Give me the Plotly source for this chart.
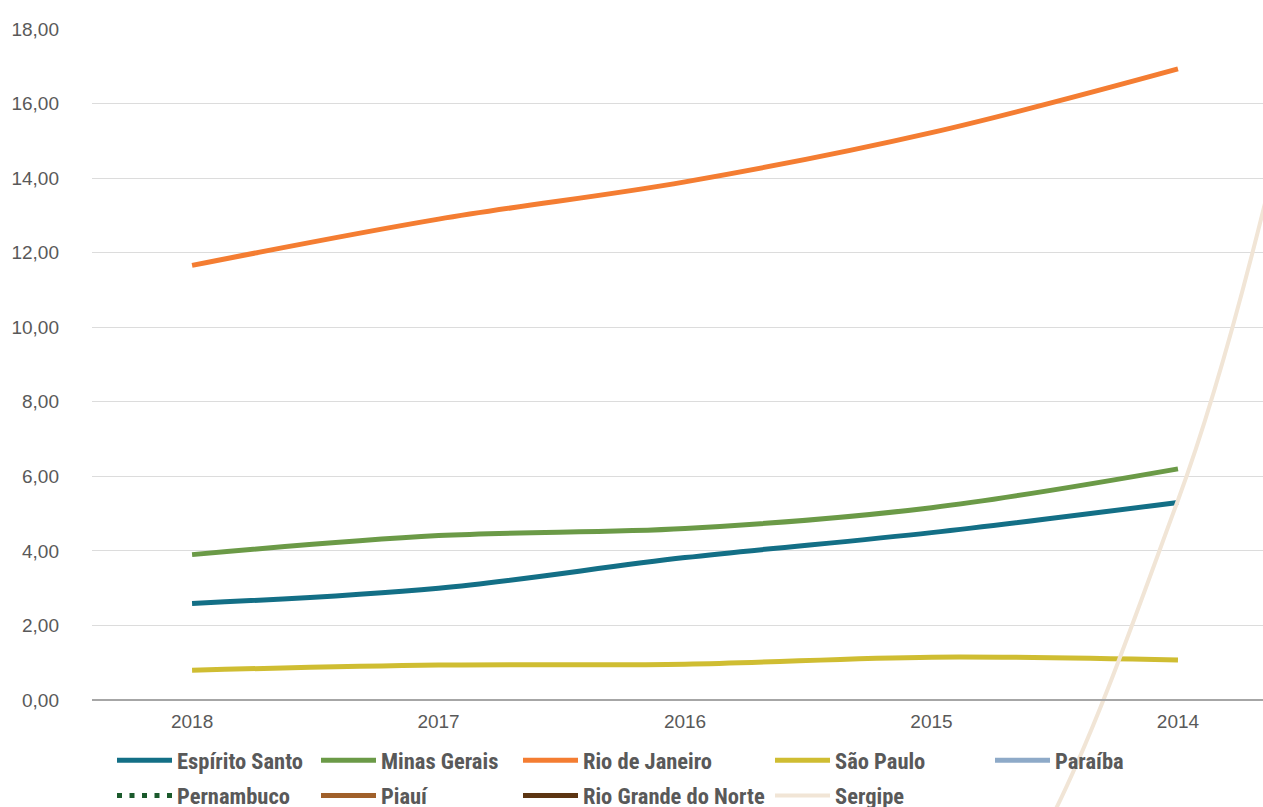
import plotly.graph_objects as go

# anos (eixo x invertido, 2013 só existe para a curva de Sergipe que sai do gráfico)
anos = ["2018", "2017", "2016", "2015", "2014", "2013"]

espirito_santo = [2.59, 3.00, 3.82, 4.49, 5.30]
minas_gerais = [3.90, 4.41, 4.60, 5.16, 6.20]
rio_de_janeiro = [11.66, 12.90, 13.90, 15.22, 16.93]
sao_paulo = [0.80, 0.94, 0.96, 1.15, 1.07]
paraiba = [None, None, None, None, None]
pernambuco = [None, None, None, None, None]
piaui = [None, None, None, None, None]
rio_grande_do_norte = [None, None, None, None, None]
sergipe = [-7.3, -7.3, -7.3, -7.3, 5.36, 34.0]

y_ticks = [0, 2, 4, 6, 8, 10, 12, 14, 16, 18]

# a figura é mais alta que a janela: a parte de baixo (e a legenda) fica cortada como no original
W, H = 1263, 850
top, zero_px, px_per_unit = 29, 700, 671 / 18
y_max = 18.0
y_min = -(H - zero_px) / px_per_unit

# nome, valores, cor, largura, traço, legenda
series = [
    ("Espírito Santo", espirito_santo, "#136f86", 5, "solid", "legend"),
    ("Minas Gerais", minas_gerais, "#6b9a47", 5, "solid", "legend2"),
    ("Rio de Janeiro", rio_de_janeiro, "#f47d32", 5, "solid", "legend3"),
    ("São Paulo", sao_paulo, "#cfbd32", 5, "solid", "legend4"),
    ("Paraíba", paraiba, "#8eaac8", 5, "solid", "legend5"),
    ("Pernambuco", pernambuco, "#1b5a2c", 5, "5px,7.5px", "legend"),
    ("Piauí", piaui, "#a0602a", 5, "solid", "legend2"),
    ("Rio Grande do Norte", rio_grande_do_norte, "#5c3512", 5, "solid", "legend3"),
    ("Sergipe", sergipe, "#f1e5d6", 4, "solid", "legend4"),
]

fig = go.Figure()
for name, vals, color, w, dash, leg in series:
    fig.add_trace(go.Scatter(
        x=anos[:len(vals)], y=vals, name=name, mode="lines",
        line=dict(color=color, width=w, dash=dash, shape="spline", smoothing=1),
        legend=leg, legendgroup=name,
    ))

legend_font = dict(family="Liberation Sans Narrow, Roboto Condensed, Arial Narrow, sans-serif",
                   size=22.5, color="#595959", weight="bold")
legend_x = [112, 316, 518, 770, 990]
plot_h = H - top
legends = {}
for i, lx in enumerate(legend_x):
    key = "legend" if i == 0 else "legend%d" % (i + 1)
    legends[key] = dict(x=(lx - 92) / 1171, y=(H - 739) / plot_h,
                        xanchor="left", yanchor="top", orientation="v",
                        font=legend_font, itemwidth=55, tracegroupgap=3,
                        bgcolor="rgba(0,0,0,0)", traceorder="grouped")

fig.update_layout(
    width=W, height=H,
    margin=dict(l=92, r=0, t=top, b=0),
    paper_bgcolor="white", plot_bgcolor="white",
    separators=",.",
    font=dict(family="Liberation Sans, Arial, sans-serif", size=19, color="#595959"),
    xaxis=dict(
        type="category", categoryorder="array", categoryarray=anos,
        range=[-0.406, 4.345], showgrid=False, zeroline=False,
        showline=True, linecolor="#a6a6a6", linewidth=1.5,
        anchor="free", position=(0 - y_min) / (y_max - y_min),
        ticks="", ticklabelstandoff=4,
    ),
    yaxis=dict(
        range=[y_min, y_max], tickvals=y_ticks, tickformat=".2f",
        showgrid=True, gridcolor="#dcdcdc", gridwidth=1, zeroline=False,
        showline=False, ticks="", ticklabelstandoff=32,
    ),
    showlegend=True,
    **legends,
)

fig.write_html("out.html", config={"displayModeBar": False},
               post_script="document.body.style.margin='0';document.body.style.overflow='hidden';")
